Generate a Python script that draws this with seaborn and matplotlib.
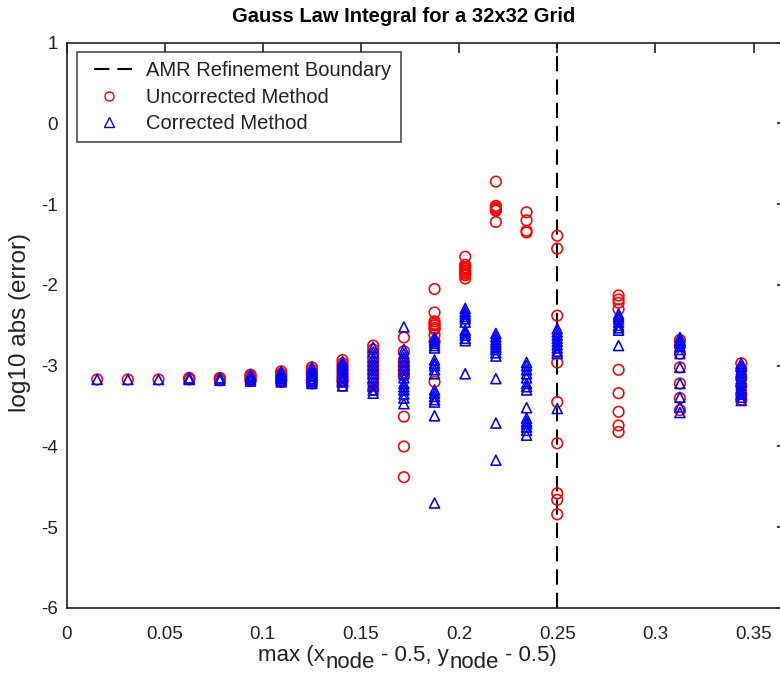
import numpy as np
import pandas as pd
import matplotlib
matplotlib.use("Agg")
import matplotlib.pyplot as plt
import seaborn as sns
from matplotlib.lines import Line2D

# ---------------- data ----------------
# node distance columns: max(x_node-0.5, y_node-0.5) on a 32x32 grid
node_dist = [0.015625, 0.03125, 0.046875, 0.0625, 0.078125, 0.09375, 0.109375,
             0.125, 0.140625, 0.15625, 0.171875, 0.1875, 0.203125, 0.21875,
             0.234375, 0.25, 0.28125, 0.3125, 0.34375]

uncorrected_err = [
    [-3.17],
    [-3.17],
    [-3.17],
    [-3.15, -3.16, -3.17],
    [-3.15, -3.16, -3.18],
    [-3.11, -3.13, -3.15, -3.17, -3.19],
    [-3.07, -3.10, -3.12, -3.14, -3.16, -3.18, -3.20],
    [-3.02, -3.05, -3.08, -3.11, -3.13, -3.16, -3.18, -3.20, -3.22],
    [-2.93, -2.97, -3.00, -3.04, -3.08, -3.12, -3.15, -3.18, -3.20, -3.25],
    [-2.75, -2.80, -2.85, -2.90, -2.95, -3.00, -3.05, -3.10, -3.15, -3.22, -3.30],
    [-2.65, -2.82, -2.95, -3.00, -3.02, -3.05, -3.08, -3.12, -3.63, -4.00, -4.38],
    [-2.05, -2.34, -2.45, -2.48, -2.50, -2.53, -2.55, -2.62, -2.70, -3.20],
    [-1.65, -1.75, -1.78, -1.80, -1.82, -1.84, -1.86, -1.88, -1.92],
    [-0.72, -1.02, -1.04, -1.05, -1.07, -1.08, -1.22],
    [-1.10, -1.20, -1.33, -1.35],
    [-1.39, -1.55, -2.38, -2.96, -3.45, -3.96, -4.58, -4.66, -4.84],
    [-2.13, -2.18, -2.22, -2.30, -3.05, -3.34, -3.57, -3.74, -3.82],
    [-2.68, -2.75, -2.85, -3.02, -3.22, -3.40, -3.55],
    [-2.97, -3.05, -3.15, -3.25, -3.35, -3.42],
]

corrected_err = [
    [-3.17],
    [-3.17],
    [-3.17],
    [-3.15, -3.16, -3.17],
    [-3.15, -3.16, -3.18],
    [-3.11, -3.13, -3.15, -3.17, -3.19],
    [-3.07, -3.10, -3.12, -3.14, -3.16, -3.18, -3.20],
    [-3.02, -3.05, -3.08, -3.11, -3.13, -3.16, -3.18, -3.20, -3.22],
    [-2.95, -2.98, -3.00, -3.04, -3.08, -3.12, -3.15, -3.18, -3.20, -3.25],
    [-2.77, -2.83, -2.90, -2.95, -3.00, -3.05, -3.10, -3.15, -3.20, -3.25, -3.30, -3.34],
    [-2.52, -2.80, -2.85, -2.90, -2.95, -3.00, -3.05, -3.10, -3.15, -3.22, -3.26,
     -3.30, -3.35, -3.40, -3.47],
    [-2.65, -2.69, -2.72, -2.75, -2.78, -2.93, -2.97, -3.00, -3.05, -3.10, -3.30,
     -3.34, -3.38, -3.42, -3.45, -3.62, -4.70],
    [-2.29, -2.33, -2.36, -2.39, -2.42, -2.46, -2.56, -2.59, -2.62, -2.66, -2.69, -3.10],
    [-2.60, -2.64, -2.68, -2.71, -2.74, -2.77, -2.80, -2.84, -2.88, -3.16, -3.71, -4.17],
    [-2.96, -3.00, -3.05, -3.10, -3.15, -3.22, -3.26, -3.30, -3.52, -3.65, -3.69,
     -3.72, -3.76, -3.80, -3.86],
    [-2.54, -2.58, -2.62, -2.66, -2.70, -2.74, -2.78, -2.82, -2.85, -3.53],
    [-2.36, -2.39, -2.42, -2.46, -2.50, -2.53, -2.56, -2.75],
    [-2.65, -2.69, -2.72, -2.76, -2.80, -2.85, -3.02, -3.22, -3.39, -3.51, -3.58],
    [-2.97, -3.01, -3.05, -3.08, -3.12, -3.16, -3.20, -3.24, -3.28, -3.32, -3.35,
     -3.39, -3.43],
]

amr_boundary = 0.25

x_ticks = [0, 0.05, 0.1, 0.15, 0.2, 0.25, 0.3, 0.35]
x_tick_labels = ["0", "0.05", "0.1", "0.15", "0.2", "0.25", "0.3", "0.35"]
y_ticks = [1, 0, -1, -2, -3, -4, -5, -6]

title_text = "Gauss Law Integral for a 32x32 Grid"
ylabel_text = "log10 abs (error)"
xlabel_pieces = [("max (x", False), ("node", True), ("- 0.5, y", False),
                 ("node", True), ("- 0.5)", False)]
legend_labels = ["AMR Refinement Boundary", "Uncorrected Method", "Corrected Method"]

# ---------------- build tables ----------------
def to_frame(cols):
    xs, ys = [], []
    for xv, vals in zip(node_dist, cols):
        for v in vals:
            xs.append(xv)
            ys.append(v)
    return pd.DataFrame({"x": xs, "y": ys})

df_unc = to_frame(uncorrected_err)
df_cor = to_frame(corrected_err)

# ---------------- plot ----------------
sns.set_theme(style="white")
plt.rcParams["font.family"] = ["Liberation Sans", "DejaVu Sans"]

W, H = 780, 675
fig = plt.figure(figsize=(W / 100, H / 100), dpi=100)
fig.patch.set_facecolor("white")

left_px, right_px, top_px, bot_px = 66.5, 787, 42.7, 608
ax = fig.add_axes([left_px / W, 1 - bot_px / H,
                   (right_px - left_px) / W, (bot_px - top_px) / H])
ax.set_facecolor("white")

dash = (0, (7.3, 3.9))
ax.axvline(amr_boundary, color="black", lw=1.5, ls=dash, zorder=1)

sns.scatterplot(data=df_unc, x="x", y="y", ax=ax, marker="o", s=58,
                facecolor="none", edgecolor="#ff0000", linewidth=1.15,
                legend=False, zorder=2)
sns.scatterplot(data=df_cor, x="x", y="y", ax=ax, marker="^", s=52,
                facecolor="none", edgecolor="#0000ff", linewidth=1.15,
                legend=False, zorder=3)

ax.set_xlim(0, (right_px - left_px) / 1962.9)
ax.set_ylim(-6, 1)
ax.set_xticks(x_ticks)
ax.set_xticklabels(x_tick_labels)
ax.set_yticks(y_ticks)
ax.set_yticklabels([str(t) for t in y_ticks])
ax.tick_params(direction="in", top=True, right=True, length=7, width=1.2,
               color="#222222", labelsize=13.5, labelcolor="#222222")
ax.tick_params(axis="x", pad=13)
ax.tick_params(axis="y", pad=6)
for sp in ax.spines.values():
    sp.set_color("#222222")
    sp.set_linewidth(1.2)
ax.set_xlabel("")
ax.set_ylabel("")

fig.text(20 / W, 1 - 322 / H, ylabel_text, rotation=90,
         ha="center", va="center", fontsize=17.5, color="#222222")
fig.text(404 / W, 1 - 16 / H, title_text,
         ha="center", va="center", fontsize=14.5, fontweight="bold",
         color="black")

# x label with full-size lowered subscripts
renderer = fig.canvas.get_renderer()
xl_fs = 16
space_px = 6
pieces = []
total = 0.0
for i, (s, sub) in enumerate(xlabel_pieces):
    t = fig.text(0, 0, s, fontsize=xl_fs, ha="left", va="baseline", color="#222222")
    w = t.get_window_extent(renderer).width
    gap = space_px if (sub and i + 1 < len(xlabel_pieces)) else 1
    pieces.append((t, sub, w, gap))
    total += w + gap
xcur = 408 - total / 2
for t, sub, w, gap in pieces:
    ybase = 668 if sub else 661
    t.set_position((xcur / W, 1 - ybase / H))
    xcur += w + gap

# legend: dash sample starts with a gap so two full dashes show
leg_dash = (7.3, (7.3, 3.9))
handles = [
    Line2D([], [], color="black", lw=1.5, ls=leg_dash),
    Line2D([], [], color="none", marker="o", markersize=6.5,
           markerfacecolor="none", markeredgecolor="#ff0000", markeredgewidth=1.0),
    Line2D([], [], color="none", marker="^", markersize=6.5,
           markerfacecolor="none", markeredgecolor="#0000ff", markeredgewidth=1.0),
]
leg = ax.legend(handles, legend_labels, loc="upper left",
                bbox_to_anchor=(77 / W, 1 - 52 / H), bbox_transform=fig.transFigure,
                frameon=True, fancybox=False, fontsize=14.5, handlelength=2.3,
                handletextpad=0.7, borderpad=0.45, labelspacing=0.38,
                borderaxespad=0)
leg.get_frame().set_edgecolor("#222222")
leg.get_frame().set_linewidth(1.2)
for t in leg.get_texts():
    t.set_color("#222222")

fig.savefig("out.png", dpi=100, facecolor="white")
